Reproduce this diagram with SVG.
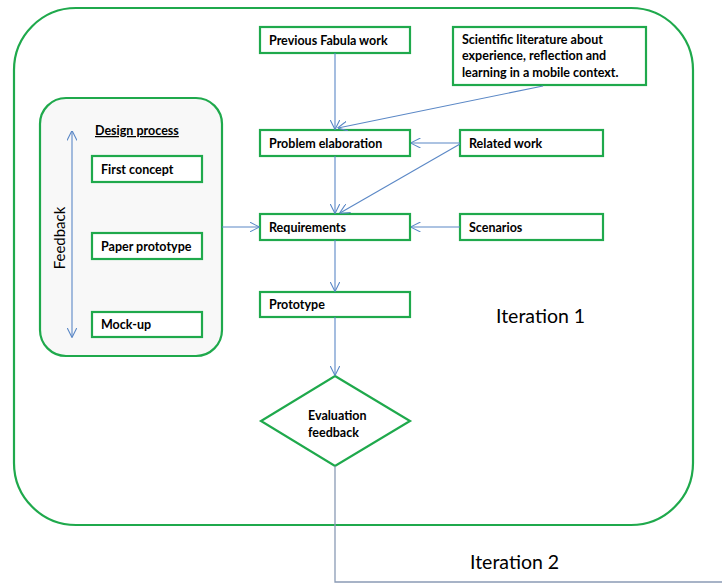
<svg xmlns="http://www.w3.org/2000/svg" width="722" height="587" viewBox="0 0 722 587">
<style>
.g{fill:#fff;stroke:#1fa94c;stroke-width:2.2}
.t{font-family:Lato,"Liberation Sans",sans-serif;font-weight:bold;font-size:12.5px;fill:#000}
.c{fill:none;stroke:#5b88c6;stroke-width:1.1}
.big{font-family:Lato,"Liberation Sans",sans-serif;font-size:19.5px;fill:#000}
</style>
<defs>
<marker id="a" viewBox="0 0 10 10" refX="9.5" refY="5" markerWidth="10" markerHeight="10" markerUnits="userSpaceOnUse" orient="auto-start-reverse">
<path d="M0,0 L10,5 L0,10" fill="none" stroke="#5b88c6" stroke-width="1.1"/>
</marker>
</defs>
<rect id="iteration1" class="g" x="14" y="8" width="679" height="517" rx="62" ry="62" fill="none"/>
<g id="design-process">
<rect x="40" y="98" width="182" height="258" rx="26" ry="26" fill="#f8f8f8" stroke="#1fa94c" stroke-width="2.2"/>
<text class="t" x="95" y="135" text-decoration="underline">Design process</text>
</g>
<g id="first-concept"><rect class="g" x="92" y="156" width="110" height="26"/><text class="t" x="101" y="174">First concept</text></g>
<g id="paper-prototype"><rect class="g" x="92" y="233" width="110" height="26"/><text class="t" x="101" y="251">Paper prototype</text></g>
<g id="mock-up"><rect class="g" x="92" y="312" width="110" height="25"/><text class="t" x="101" y="329">Mock-up</text></g>
<g id="previous"><rect class="g" x="260" y="27" width="150" height="26"/><text class="t" x="269" y="45">Previous Fabula work</text></g>
<g id="literature"><rect class="g" x="453" y="27" width="193" height="58"/><text class="t" x="462" y="44">Scientific literature about</text><text class="t" x="462" y="60">experience, reflection and</text><text class="t" x="462" y="77">learning in a mobile context.</text></g>
<g id="problem"><rect class="g" x="260" y="130" width="150" height="26"/><text class="t" x="269" y="148">Problem elaboration</text></g>
<g id="related"><rect class="g" x="460" y="130" width="143" height="26"/><text class="t" x="469" y="148">Related work</text></g>
<g id="requirements"><rect class="g" x="260" y="214" width="150" height="26"/><text class="t" x="269" y="232">Requirements</text></g>
<g id="scenarios"><rect class="g" x="460" y="214" width="143" height="26"/><text class="t" x="469" y="232">Scenarios</text></g>
<g id="prototype"><rect class="g" x="260" y="292" width="150" height="25"/><text class="t" x="269" y="309">Prototype</text></g>
<g id="evaluation"><polygon class="g" points="335,376 410,421 335,466 261,421"/><text class="t" x="308" y="420">Evaluation</text><text class="t" x="308" y="437">feedback</text></g>
<g id="connectors">
<line class="c" x1="335" y1="53" x2="335" y2="129" marker-end="url(#a)"/>
<line class="c" x1="543" y1="86" x2="338" y2="128" marker-end="url(#a)"/>
<line class="c" x1="460" y1="143" x2="411" y2="143" marker-end="url(#a)"/>
<line class="c" x1="460" y1="144" x2="340" y2="213" marker-end="url(#a)"/>
<line class="c" x1="335" y1="156" x2="335" y2="213" marker-end="url(#a)"/>
<line class="c" x1="460" y1="227" x2="411" y2="227" marker-end="url(#a)"/>
<line class="c" x1="222" y1="227" x2="259" y2="227" marker-end="url(#a)"/>
<line class="c" x1="335" y1="240" x2="335" y2="291" marker-end="url(#a)"/>
<line class="c" x1="335" y1="317" x2="335" y2="375" marker-end="url(#a)"/>
<line class="c" x1="72" y1="131" x2="72" y2="337" marker-start="url(#a)" marker-end="url(#a)"/>
<polyline points="335,466 335,582 722,582" fill="none" stroke="#8a9bb5" stroke-width="1.3"/>
</g>
<text x="0" y="0" transform="translate(65,238) rotate(-90)" text-anchor="middle" font-family="Lato,'Liberation Sans',sans-serif" font-size="15px" fill="#000">Feedback</text>
<text class="big" x="496" y="323">Iteration 1</text>
<text class="big" x="470" y="569">Iteration 2</text>
</svg>
